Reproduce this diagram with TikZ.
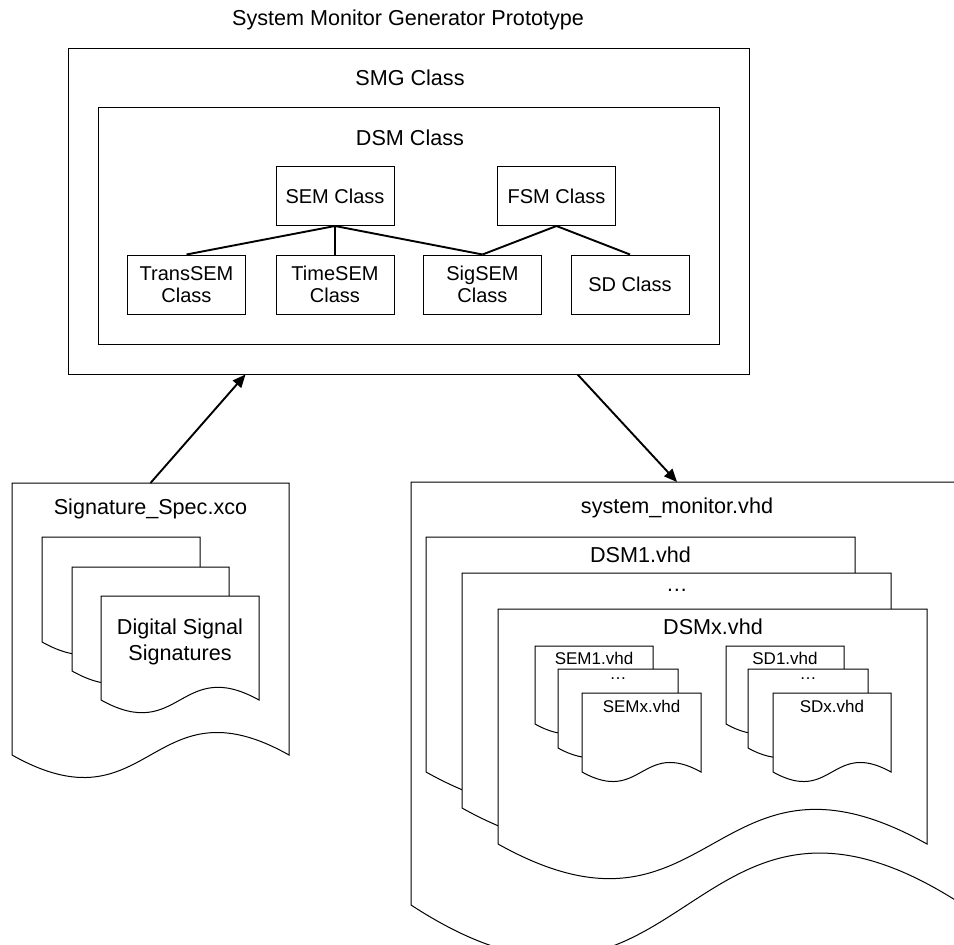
\documentclass[tikz,border=0pt]{standalone}
\usepackage{fontspec}
\setmainfont{Liberation Sans}
\usetikzlibrary{arrows.meta,calc}

% Document shape with a wavy bottom edge:
% #1 name, #2 left x, #3 top y, #4 right x, #5 bottom corner y, #6 wave strength
\newcommand\vdoc[6]{%
  \draw[docline] (#2,#5) -- (#2,#3) -- (#4,#3) -- (#4,#5)
    .. controls ({(#2+#4)/2},{#5-#6}) and ({(#2+#4)/2},{#5+#6}) .. (#2,#5) -- cycle;
  \coordinate (#1-nw) at (#2,#3);
  \coordinate (#1-ne) at (#4,#3);
}

\begin{document}
\begin{tikzpicture}[x=1pt,y=-1pt,
  box/.style={draw=black, line width=1pt, fill=white},
  clsbox/.style={box, minimum width=118pt, minimum height=59pt, inner sep=0pt,
    align=center, font=\fontsize{20}{22}\selectfont},
  bigtxt/.style={font=\fontsize{21.6}{26}\selectfont, inner sep=0pt, align=center},
  smalltxt/.style={font=\fontsize{17}{20}\selectfont, inner sep=0pt},
  docline/.style={draw=black, fill=white, line width=1pt},
  link/.style={line width=1.9pt},
  flow/.style={line width=1.9pt, -{Triangle[length=13pt,width=11pt]}}
]
\useasboundingbox (0,0) rectangle (954,945);
\clip (0,0) rectangle (954,945);

% generator prototype
\node[bigtxt] (title) at (408,20) {System Monitor Generator Prototype};
\node[box, minimum width=681pt, minimum height=326pt] (smg) at (408.5,211) {};
\node[bigtxt] (smglbl) at (410,78) {SMG Class};
\node[box, minimum width=621pt, minimum height=237pt] (dsm) at (408.5,225.5) {};
\node[bigtxt] (dsmlbl) at (410,138) {DSM Class};

\node[clsbox] (sem) at (335,196) {SEM Class};
\node[clsbox] (fsm) at (556.5,196) {FSM Class};
\node[clsbox] (trans) at (186.5,284.5) {TransSEM\\Class};
\node[clsbox] (time) at (335,284.5) {TimeSEM\\Class};
\node[clsbox] (sig) at (482.5,284.5) {SigSEM\\Class};
\node[clsbox] (sd) at (630,284.5) {SD Class};

\draw[link] (sem.south) -- (trans.north);
\draw[link] (sem.south) -- (time.north);
\draw[link] (sem.south) -- (sig.north);
\draw[link] (fsm.south) -- (sig.north);
\draw[link] (fsm.south) -- (sd.north);

% input specification
\vdoc{sigspec}{12}{483}{289}{755}{78}
\node[bigtxt] (speclbl) at (150.5,509) {Signature\_Spec.xco};
\vdoc{sigA}{42}{537}{200}{642}{44}
\vdoc{sigB}{72}{567}{229}{671}{44}
\vdoc{sigC}{101}{596}{259}{700}{44}
\node[bigtxt] (siglbl) at (180,642) {Digital Signal\\Signatures};

% generated VHDL
\vdoc{sysmon}{411}{482}{963}{905}{180}
\node[bigtxt] (sysmonlbl) at (677,508) {system\_monitor.vhd};
\vdoc{dsmA}{426}{537}{855}{772}{120}
\node[bigtxt] (dsmAlbl) at (640.5,555) {DSM1.vhd};
\vdoc{dsmB}{462}{573}{891}{808}{120}
\node[bigtxt] (dsmBlbl) at (677,590) {…};
\vdoc{dsmC}{498}{609}{927}{844}{120}
\node[bigtxt] (dsmClbl) at (713,627) {DSMx.vhd};

\vdoc{semA}{535}{646}{653}{724}{33}
\node[smalltxt] (semAlbl) at (594,658) {SEM1.vhd};
\vdoc{semB}{558}{669}{678}{748}{33}
\node[smalltxt] (semBlbl) at (618,679) {…};
\vdoc{semC}{582}{693}{701}{772}{33}
\node[smalltxt] (semClbl) at (641.5,706) {SEMx.vhd};

\vdoc{sdA}{726}{646}{844}{724}{33}
\node[smalltxt] (sdAlbl) at (785,658) {SD1.vhd};
\vdoc{sdB}{748}{669}{868}{748}{33}
\node[smalltxt] (sdBlbl) at (808,679) {…};
\vdoc{sdC}{773}{693}{891}{772}{33}
\node[smalltxt] (sdClbl) at (832,706) {SDx.vhd};

% data flow
\draw[flow] ($(sigspec-nw)!0.5!(sigspec-ne)$) -- ($(smg.south west)!0.261!(smg.south east)$);
\draw[flow] ($(smg.south west)!0.748!(smg.south east)$) -- ($(sysmon-nw)!0.482!(sysmon-ne)$);
\end{tikzpicture}
\end{document}
